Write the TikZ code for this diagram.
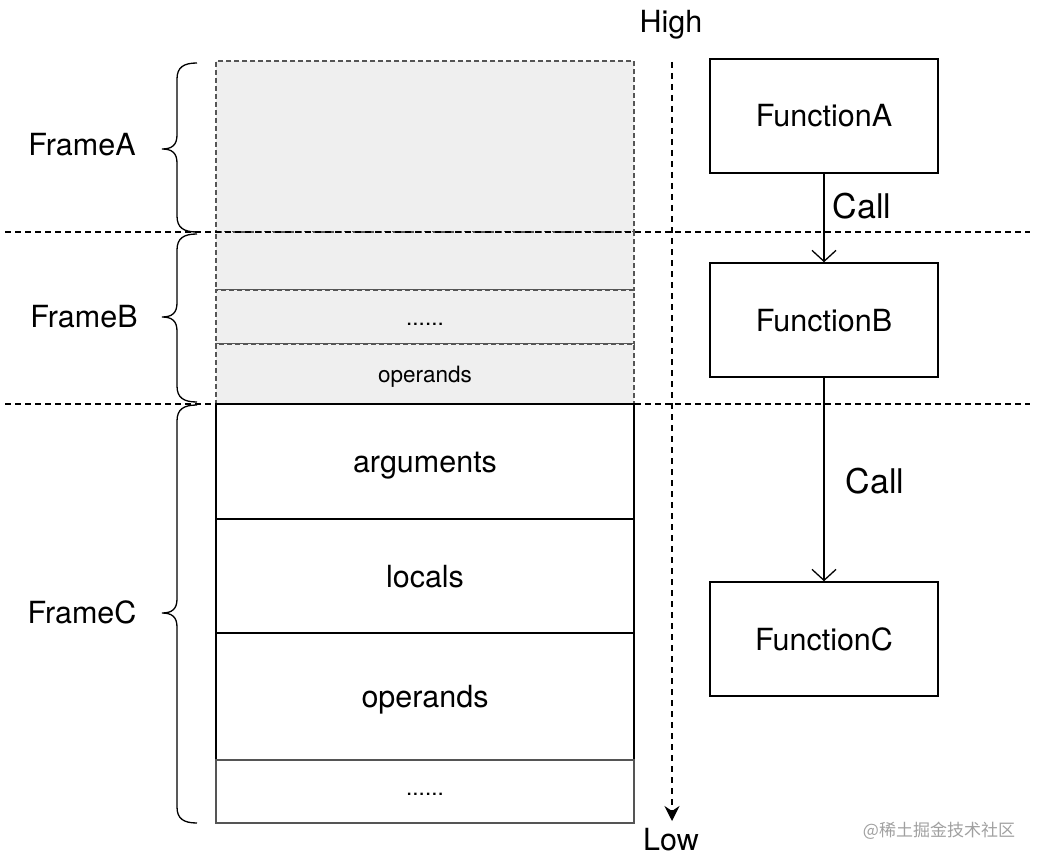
\documentclass[tikz,border=0pt]{standalone}
\usepackage{fontspec}
\setmainfont{TeX Gyre Heros}
\newfontfamily\cjk{Noto Sans CJK SC}
\usetikzlibrary{arrows.meta}
\definecolor{stackgray}{HTML}{EFEFEF}
\definecolor{dashgray}{HTML}{555555}
\definecolor{wmgray}{HTML}{A0A0A0}
\tikzset{
  graybox/.style={draw=dashgray, fill=stackgray, line width=1.1pt, dash pattern=on 5pt off 3pt, minimum width=418pt, inner sep=0pt, text height=16pt, text depth=0pt, font=\fontsize{22.5}{26}\selectfont},
  framebox/.style={draw=black, line width=1.5pt, minimum width=418pt, inner sep=0pt, text height=22pt, text depth=0pt, font=\fontsize{30.5}{34}\selectfont},
  funcbox/.style={draw=black, line width=1.5pt, minimum width=228pt, minimum height=114pt, inner sep=0pt, text height=22pt, text depth=0pt, font=\fontsize{30.5}{34}\selectfont},
  biglabel/.style={font=\fontsize{30.5}{34}\selectfont, inner sep=0pt, text height=22pt, text depth=0pt},
  calllabel/.style={font=\fontsize{34}{38}\selectfont, inner sep=0pt, text height=24.5pt, text depth=0pt},
  divider/.style={line width=1.3pt, dash pattern=on 6pt off 4pt},
  bracestyle/.style={line width=1.3pt},
  callarrow/.style={line width=1.3pt, -{Straight Barb[length=11pt,width=24pt,line width=1.3pt]}},
}
\newcommand{\mybrace}[3]{%
  \draw[bracestyle] (197,#1) .. controls (184,#1) and (177,#1+4) .. (177,#1+16) -- (177,#2-14)
    .. controls (177,#2-4) and (172,#2) .. (162,#2)
    .. controls (172,#2) and (177,#2+4) .. (177,#2+14) -- (177,#3-16)
    .. controls (177,#3-4) and (184,#3) .. (197,#3);}
\begin{document}
\begin{tikzpicture}[x=1pt,y=-1pt]
\useasboundingbox (0,0) rectangle (1042,864);
% stack: frame A and B
\node[graybox, minimum height=171pt] (fa) at (425,146.5) {};
\node[graybox, minimum height=58pt] (fb1) at (425,261) {};
\node[graybox, minimum height=54pt] (fb2) at (425,317) {......};
\node[graybox, minimum height=60pt] (fb3) at (425,374) {operands};
% frame C
\node[framebox, minimum height=115pt] (fc1) at (425,461.5) {arguments};
\node[framebox, minimum height=114pt] (fc2) at (425,576) {locals};
\node[framebox, minimum height=127pt] (fc3) at (425,696.5) {operands};
\node[framebox, draw=dashgray, minimum height=63pt, text height=7pt, font=\fontsize{22.5}{26}\selectfont] (fc4) at (425,791.5) {......};
% dividers
\coordinate (d1l) at (5,232); \coordinate (d1r) at (1030,232);
\coordinate (d2l) at (5,404); \coordinate (d2r) at (1030,404);
\draw[divider] (d1l) -- (d1r);
\draw[divider] (d2l) -- (d2r);
% braces and labels
\mybrace{63}{149}{232}
\mybrace{234}{317}{402}
\mybrace{405}{613}{823}
\node[biglabel] (la) at (82,145) {FrameA};
\node[biglabel] (lb) at (84,316) {FrameB};
\node[biglabel] (lc) at (82,612) {FrameC};
% high/low arrow
\node[biglabel] (high) at (671,22) {High};
\node[biglabel] (low) at (671,839) {Low};
\coordinate (vtop) at (672,62);
\coordinate (vbot) at (672,821);
\draw[line width=1.3pt, dash pattern=on 6pt off 5pt, -{Stealth[length=15pt,width=15pt,inset=5pt]}] (vtop) -- (vbot);
% functions
\node[funcbox] (fA) at (824,116) {FunctionA};
\node[funcbox] (fB) at (824,320) {FunctionB};
\node[funcbox] (fC) at (824,639) {FunctionC};
\draw[callarrow] (fA.south) -- (fB.north);
\draw[callarrow] (fB.south) -- (fC.north);
\node[calllabel] (c1) at (862,206) {Call};
\node[calllabel] (c2) at (875,481) {Call};
% watermark
\node[text=wmgray, inner sep=0pt, font=\cjk\fontsize{17}{20}\selectfont] (wm) at (939,831) {@稀土掘金技术社区};
\end{tikzpicture}
\end{document}
